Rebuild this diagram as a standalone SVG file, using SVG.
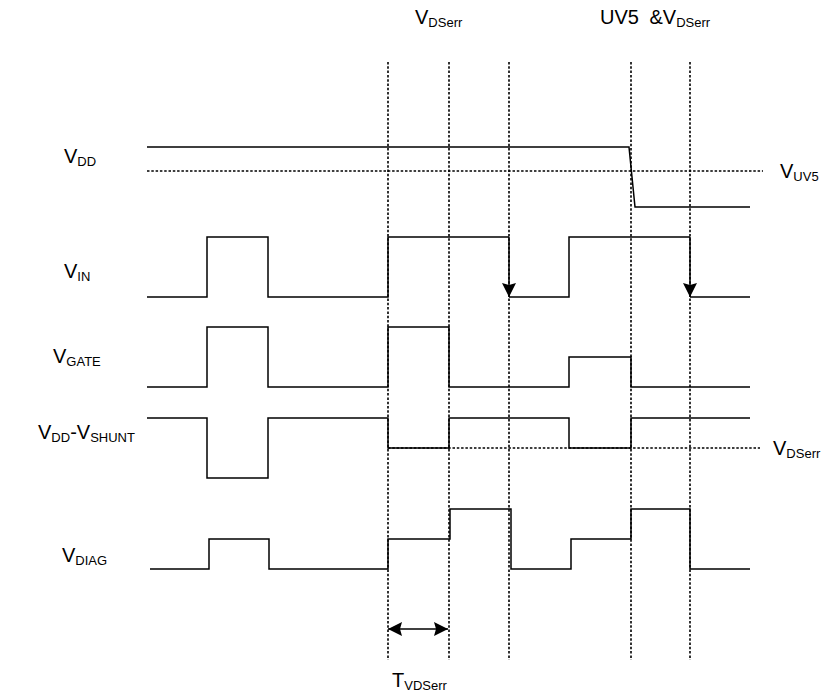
<svg xmlns="http://www.w3.org/2000/svg" width="829" height="693" viewBox="0 0 829 693">
<defs>
<style>
.sig{fill:none;stroke:#000;stroke-width:1.5}
.dot{fill:none;stroke:#000;stroke-width:1.6;stroke-dasharray:2.5,1.8}
.lbl{font-family:"Liberation Sans",Arial,sans-serif;font-size:20px;fill:#000}
.sub{font-size:13px}
</style>
<marker id="ah" viewBox="0 0 14 14" refX="14" refY="7" markerWidth="14" markerHeight="14" markerUnits="userSpaceOnUse" orient="auto">
<path d="M0,0 L14,7 L0,14 L2,7 Z" fill="#000"/>
</marker>
</defs>
<rect width="829" height="693" fill="#fff"/>
<g id="connectors">
<g id="guides">
<line class="dot" x1="388" y1="62" x2="388" y2="660"/>
<line class="dot" x1="449" y1="62" x2="449" y2="660"/>
<line class="dot" x1="509" y1="62" x2="509" y2="660"/>
<line class="dot" x1="631" y1="62" x2="631" y2="660"/>
<line class="dot" x1="690" y1="62" x2="690" y2="660"/>
<line class="dot" x1="147" y1="171" x2="763" y2="171"/>
<line class="dot" x1="388" y1="448" x2="760" y2="448"/>
</g>
<path id="vdd" class="sig" d="M147,147 H629 L635,207 H750"/>
<path id="vin" class="sig" d="M147,297 H207 V237 H268 V297 H388 V237 H509 M509,297 H569 V237 H690 M690,297 H750"/>
<line class="sig" x1="509" y1="237" x2="509" y2="297" marker-end="url(#ah)"/>
<line class="sig" x1="690" y1="237" x2="690" y2="297" marker-end="url(#ah)"/>
<path id="vgate" class="sig" d="M147,387 H207 V327 H268 V387 H388 V327 H449 V387 H569 V357 H631 V387 H750"/>
<path id="vshunt" class="sig" d="M147,418 H207 V478 H268 V418 H388 V448 H449 V418 H569 V448 H631 V418 H750"/>
<path id="vdiag" class="sig" d="M150,569 H209 V539 H269 V569 H388 V539 H450 V509 H511 V569 H571 V539 H631 V509 H690 V569 H750"/>
<line class="sig" x1="398" y1="629" x2="438" y2="629"/>
<line class="sig" x1="400" y1="629" x2="388" y2="629" marker-end="url(#ah)"/>
<line class="sig" x1="436" y1="629" x2="448" y2="629" marker-end="url(#ah)"/>
</g>
<g id="labels">
<text class="lbl" x="415" y="24">V<tspan class="sub" dy="3">DSerr</tspan></text>
<text class="lbl" x="600" y="24">UV5 <tspan dx="5">&amp;V</tspan><tspan class="sub" dy="3">DSerr</tspan></text>
<text class="lbl" x="64" y="163">V<tspan class="sub" dy="3">DD</tspan></text>
<text class="lbl" x="780" y="178">V<tspan class="sub" dy="3">UV5</tspan></text>
<text class="lbl" x="64" y="278">V<tspan class="sub" dy="3">IN</tspan></text>
<text class="lbl" x="53" y="363">V<tspan class="sub" dy="3">GATE</tspan></text>
<text class="lbl" x="38" y="439">V<tspan class="sub" dy="3">DD</tspan><tspan dy="-3">-V</tspan><tspan class="sub" dy="3">SHUNT</tspan></text>
<text class="lbl" x="773" y="455">V<tspan class="sub" dy="3">DSerr</tspan></text>
<text class="lbl" x="62" y="562">V<tspan class="sub" dy="3">DIAG</tspan></text>
<text class="lbl" x="392" y="687">T<tspan class="sub" dy="3">VDSerr</tspan></text>
</g>
</svg>
